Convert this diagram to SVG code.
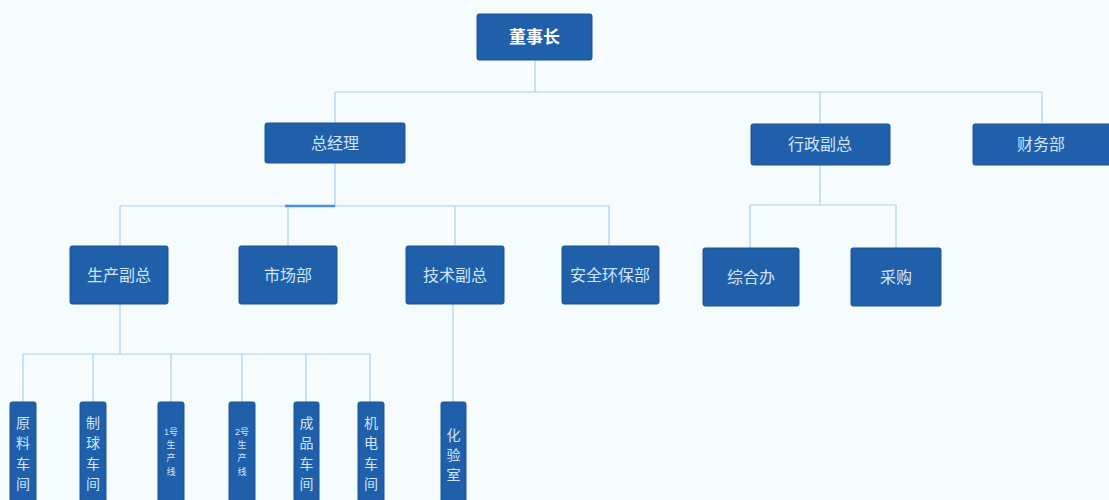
<svg xmlns="http://www.w3.org/2000/svg" width="1109" height="500" viewBox="0 0 1109 500">
<style>
.bg{fill:#f6fbfe}
.box{fill:#2060aa;stroke:#1a5396;stroke-width:1}
.t{font-family:"Liberation Sans","Noto Sans CJK SC",sans-serif;font-size:16px;fill:#cfe4fa;text-anchor:middle;dominant-baseline:central}
.tv{font-family:"Liberation Sans","Noto Sans CJK SC",sans-serif;font-size:14px;fill:#cfe4fa;text-anchor:middle;dominant-baseline:central}
.ts{font-family:"Liberation Sans","Noto Sans CJK SC",sans-serif;font-size:9px;fill:#cfe4fa;text-anchor:middle;dominant-baseline:central}
.top{font-family:"Liberation Sans","Noto Sans CJK SC",sans-serif;font-size:17px;font-weight:bold;fill:#ffffff;text-anchor:middle;dominant-baseline:central}
.c{fill:none;stroke:#a9d0ef;stroke-width:1.2}
</style>
<rect class="bg" x="0" y="0" width="1109" height="500"/>
<g id="connectors">
<path class="c" d="M535 60V92M335 92H1042M335 92V123M820 92V123M1042 92V123"/>
<path class="c" d="M335 163V206M120 206H609M120 206V246M288 206V246M455 206V246M609 206V246"/>
<path stroke="#4f90d6" stroke-width="2.5" fill="none" d="M285 206H335"/>
<path class="c" d="M820 164V205M750 205H896M750 205V248M896 205V248"/>
<path class="c" d="M120 304V354M23 354H370M23 354V402M93 354V402M171 354V402M242 354V402M306 354V402M370 354V402"/>
<path class="c" d="M453 304V402"/>
</g>
<g id="n-dsz"><rect class="box" x="477" y="14" width="115" height="46" rx="2"/><text class="top" x="534.5" y="37">董事长</text></g>
<g id="n-zjl"><rect class="box" x="265" y="123" width="140" height="40" rx="2"/><text class="t" x="335" y="143">总经理</text></g>
<g id="n-xzfz"><rect class="box" x="751" y="124" width="139" height="41" rx="2"/><text class="t" x="820" y="144">行政副总</text></g>
<g id="n-cwb"><rect class="box" x="973" y="124" width="140" height="41" rx="2"/><text class="t" x="1041" y="144">财务部</text></g>
<g id="n-scfz"><rect class="box" x="70" y="246" width="98" height="58" rx="2"/><text class="t" x="119" y="275">生产副总</text></g>
<g id="n-scb"><rect class="box" x="239" y="246" width="98" height="58" rx="2"/><text class="t" x="288" y="275">市场部</text></g>
<g id="n-jsfz"><rect class="box" x="406" y="246" width="98" height="58" rx="2"/><text class="t" x="455" y="275">技术副总</text></g>
<g id="n-aqhb"><rect class="box" x="562" y="246" width="97" height="58" rx="2"/><text class="t" x="610" y="275">安全环保部</text></g>
<g id="n-zhb"><rect class="box" x="703" y="248" width="96" height="58" rx="2"/><text class="t" x="751" y="277">综合办</text></g>
<g id="n-cg"><rect class="box" x="851" y="248" width="90" height="58" rx="2"/><text class="t" x="896" y="277">采购</text></g>
<g id="n-ylcj"><rect class="box" x="10" y="402" width="26" height="110" rx="2"/><text class="tv" x="23" y="423">原</text><text class="tv" x="23" y="443">料</text><text class="tv" x="23" y="464">车</text><text class="tv" x="23" y="484">间</text></g>
<g id="n-zqcj"><rect class="box" x="80" y="402" width="26" height="110" rx="2"/><text class="tv" x="93" y="423">制</text><text class="tv" x="93" y="443">球</text><text class="tv" x="93" y="464">车</text><text class="tv" x="93" y="484">间</text></g>
<g id="n-1hscx"><rect class="box" x="158" y="402" width="26" height="110" rx="2"/><text class="ts" x="171" y="432">1号</text><text class="ts" x="171" y="445">生</text><text class="ts" x="171" y="458">产</text><text class="ts" x="171" y="472">线</text></g>
<g id="n-2hscx"><rect class="box" x="229" y="402" width="26" height="110" rx="2"/><text class="ts" x="242" y="432">2号</text><text class="ts" x="242" y="445">生</text><text class="ts" x="242" y="458">产</text><text class="ts" x="242" y="472">线</text></g>
<g id="n-cpcj"><rect class="box" x="294" y="402" width="25" height="110" rx="2"/><text class="tv" x="306.5" y="423">成</text><text class="tv" x="306.5" y="443">品</text><text class="tv" x="306.5" y="464">车</text><text class="tv" x="306.5" y="484">间</text></g>
<g id="n-jdcj"><rect class="box" x="358" y="402" width="26" height="110" rx="2"/><text class="tv" x="371" y="423">机</text><text class="tv" x="371" y="443">电</text><text class="tv" x="371" y="464">车</text><text class="tv" x="371" y="484">间</text></g>
<g id="n-hys"><rect class="box" x="441" y="402" width="25" height="110" rx="2"/><text class="tv" x="453.5" y="435">化</text><text class="tv" x="453.5" y="455">验</text><text class="tv" x="453.5" y="475">室</text></g>
</svg>
